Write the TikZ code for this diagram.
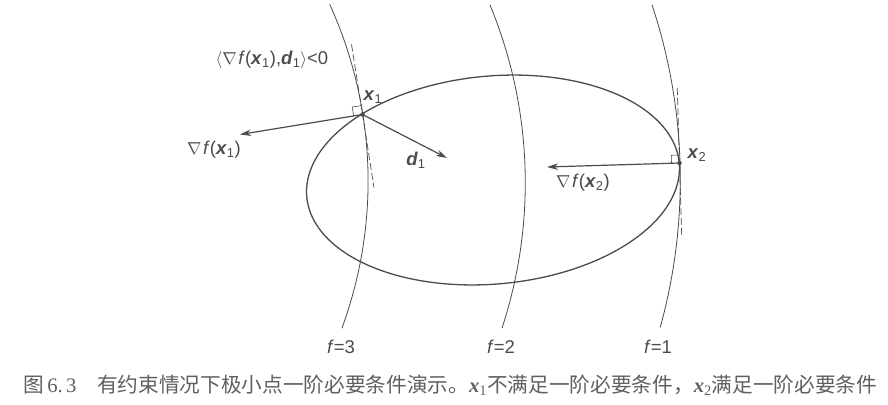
\documentclass[tikz,border=0pt]{standalone}
\usepackage{fontspec}
\setmainfont{Liberation Sans}
\newfontfamily\cjk{Noto Sans CJK SC}
\newfontfamily\capserif{Liberation Serif}
\usetikzlibrary{arrows.meta,calc}
\definecolor{ink}{RGB}{75,75,75}
\definecolor{capc}{RGB}{95,95,95}
\newcommand{\bvec}[2]{\textbf{\textit{#1}}\textsubscript{#2}}
\newcommand{\gradf}{$\nabla$\kern0.08em\textit{f}}
\newcommand{\capx}[1]{{\capserif\bfseries\itshape x}\textsubscript{\capserif #1}}
\tikzset{
  levelc/.style={draw=ink, line width=0.8pt},
  region/.style={draw=ink, line width=1.3pt},
  vec/.style={draw=ink, line width=1.2pt, -{Stealth[length=11pt,width=6.5pt,inset=3.5pt]}},
  tang/.style={draw=ink, line width=0.7pt, dash pattern=on 7pt off 3pt},
  rightang/.style={draw=ink, line width=0.6pt},
  dotpt/.style={circle, fill=ink, inner sep=0pt, minimum size=4.5pt},
  lab/.style={text=ink, font=\fontsize{18.5}{21}\selectfont, inner sep=1pt},
}
\begin{document}
\begin{tikzpicture}[x=1pt,y=-1pt]
\useasboundingbox (0,0) rectangle (888,404);
% level curves
\draw[levelc] plot[domain=-24.5:20.2,samples=80,smooth] ({-58.2+426.3*cos(\x)},{181.1+426.3*sin(\x)});
\draw[levelc] plot[domain=-22.45:18.2,samples=80,smooth] ({59.9+465.4*cos(\x)},{182.7+465.4*sin(\x)});
\draw[levelc] plot[domain=-18.4:15.5,samples=80,smooth] ({126.4+553.9*cos(\x)},{179.6+553.9*sin(\x)});
% feasible region
\draw[region] plot[domain=0:357.5,samples=144,smooth cycle] ({493+186.23*cos(\x)+9.426*sin(\x)},{180-16.95*cos(\x)+103.57*sin(\x)});
% points
\node[dotpt] (x1) at (362.5,114.5) {};
\node[dotpt] (x2) at (679.5,163) {};
\coordinate (g1) at (240,134.5);
\coordinate (d1) at (447,158);
\coordinate (g2) at (547,167);
\coordinate (t1a) at ($(x1.center)+(-11,-70.1)$);
\coordinate (t1b) at ($(x1.center)+(11.5,73.1)$);
\coordinate (t2a) at ($(x2.center)+(-2.25,-75)$);
\coordinate (t2b) at ($(x2.center)+(2.25,75)$);
% tangents
\draw[tang] (t1a) -- (t1b);
\draw[tang] (t2a) -- (t2b);
% right-angle marks
\draw[rightang] ($(x1.center)+(-8.89,1.40)$) -- ++(-1.40,-8.89) -- ++(8.89,-1.40);
\draw[rightang] ($(x2.center)+(-8,0.24)$) -- ++(-0.24,-8) -- ++(8,-0.24);
% vectors
\draw[vec] (x1.center) -- (g1);
\draw[vec] (x1.center) -- (d1);
\draw[vec] (x2.center) -- (g2);
% labels
\node[lab] (lcond) at (272,60) {$\langle$\gradf(\bvec{x}{1}),\bvec{d}{1}$\rangle$<0};
\node[lab] (lx1) at (373,97) {\bvec{x}{1}};
\node[lab] (lg1) at (214,150) {\gradf(\bvec{x}{1})};
\node[lab] (ld1) at (416,160) {\bvec{d}{1}};
\node[lab] (lx2) at (697,155) {\bvec{x}{2}};
\node[lab] (lg2) at (583,183) {\gradf(\bvec{x}{2})};
\node[lab] (lf3) at (341,347) {\textit{f}=3};
\node[lab] (lf2) at (501,347) {\textit{f}=2};
\node[lab] (lf1) at (658,347) {\textit{f}=1};
% caption
\node[anchor=west, text=capc, inner sep=0pt] (cap) at (23,385) {\resizebox{854pt}{!}{\fontsize{18}{21}\selectfont\cjk 图\,{\capserif 6.\,3}\hspace{1em}有约束情况下极小点一阶必要条件演示。\capx{1}不满足一阶必要条件，\capx{2}满足一阶必要条件}};
\end{tikzpicture}
\end{document}
